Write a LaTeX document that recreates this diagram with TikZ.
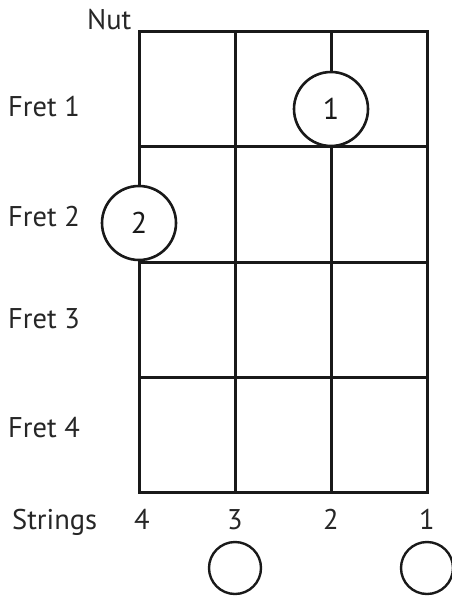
\documentclass[tikz,border=0pt]{standalone}
\usepackage{fontspec}
\setmainfont{PT Sans}
\usetikzlibrary{positioning}
\tikzset{
fretline/.style={line width=3pt,line cap=rect,black!90},
finger/.style={draw,circle,line width=2.6pt,black!90,minimum size=74pt,inner sep=0pt,font=\fontsize{30}{32}\selectfont},
openstring/.style={draw,circle,line width=2.4pt,black!90,minimum size=52pt,inner sep=0pt},
label/.style={anchor=base west,inner sep=0pt,font=\fontsize{28.5}{30}\selectfont,text=black!85}
}

\begin{document}
\begin{tikzpicture}[x=1pt,y=-1pt]
\useasboundingbox (0,0) rectangle (451,596);
% strings and frets
\foreach \s/\x in {4/139,3/235,2/331,1/427}{
  \coordinate (top\s) at (\x,32);
  \coordinate (bot\s) at (\x,492);
  \draw[fretline](top\s)--(bot\s);
}
\foreach \f/\y in {0/32,1/147,2/262,3/377,4/492}{
  \coordinate (left\f) at (139,\y);
  \coordinate (right\f) at (427,\y);
  \draw[fretline](left\f)--(right\f);
}
% labels
\node[label](nut) at (87,30){Nut};
\node[label](fret1) at (8,117){Fret 1};
\node[label](fret2) at (8,226){Fret 2};
\node[label](fret3) at (8,328){Fret 3};
\node[label](fret4) at (8,437){Fret 4};
\node[label](strings) at (12,529){Strings};
\foreach \s/\x in {4/142,3/235,2/331,1/427}
  \node[label,anchor=base](num\s) at (\x,529){\s};
% fingers
\node[finger,fill=white](f1) at (331,109){1};
\node[finger,fill=white](f2) at (139,223){2};
% open strings
\node[openstring](o3) at (235,568){};
\node[openstring](o1) at (427,568){};
\end{tikzpicture}
\end{document}
